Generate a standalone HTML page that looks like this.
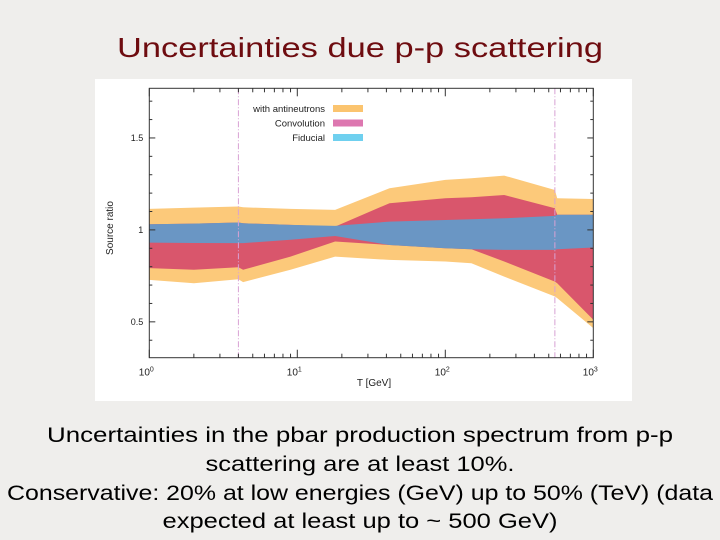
<!DOCTYPE html>
<html><head><meta charset="utf-8"><style>
html,body{margin:0;padding:0;background:#efeeec;}
svg{display:block;font-family:"Liberation Sans",sans-serif;}
</style></head><body>
<svg id="page" width="720" height="540" viewBox="0 0 720 540">
<rect x="0" y="0" width="720" height="540" fill="#efeeec"/>
<text x="360" y="57" text-anchor="middle" font-size="28" fill="#6e0c10" textLength="486" lengthAdjust="spacingAndGlyphs">Uncertainties due p-p scattering</text>
<rect x="95" y="79" width="537" height="322" fill="#ffffff"/>
<g id="chart"></g>
<g font-size="21" fill="#000" text-anchor="middle">
<text x="360" y="442" textLength="626" lengthAdjust="spacingAndGlyphs">Uncertainties in the pbar production spectrum from p-p</text>
<text x="360" y="471" textLength="309" lengthAdjust="spacingAndGlyphs">scattering are at least 10%.</text>
<text x="360" y="500" textLength="706" lengthAdjust="spacingAndGlyphs">Conservative: 20% at low energies (GeV) up to 50% (TeV) (data</text>
<text x="360" y="528" textLength="395" lengthAdjust="spacingAndGlyphs">expected at least up to ~ 500 GeV)</text>
</g>
</svg>
<script>
const energies = [1, 2, 4, 4.3, 9, 18, 42, 100, 150, 250, 550, 570, 1000];
const antineutronUpper = [1.114,1.121,1.127,1.123,1.114,1.109,1.226,1.272,1.281,1.295,1.217,1.172,1.168];
const antineutronLower = [0.728,0.71,0.732,0.716,0.783,0.855,0.837,0.828,0.819,0.746,0.638,0.629,0.466];
const convolutionUpper = [1.031,1.034,1.04,1.036,1.027,1.018,1.145,1.172,1.178,1.19,1.118,1.082,1.082];
const convolutionLower = [0.792,0.783,0.797,0.783,0.855,0.937,0.918,0.9,0.895,0.828,0.719,0.71,0.511];
const fiducialUpper = [1.031,1.034,1.04,1.036,1.027,1.022,1.045,1.054,1.058,1.063,1.076,1.082,1.082];
const fiducialLower = [0.931,0.929,0.928,0.928,0.946,0.967,0.918,0.9,0.895,0.891,0.891,0.895,0.904];
const yTickLabels = [0.5, 1, 1.5];
const xDecades = [0, 1, 2, 3];
const markerEnergies = [4, 550];

const NS = "http://www.w3.org/2000/svg";
const L = 149.3, R = 593.3, T = 88.3, B = 357.7;
const yMin = 0.305, yMax = 1.77;
function xs(e){ return L + (Math.log10(e) - 0) / 3 * (R - L); }
function ys(v){ return B - (v - yMin) / (yMax - yMin) * (B - T); }
const g = document.getElementById('chart');
function mk(tag, attrs, parent){ const el = document.createElementNS(NS, tag); for (const k in attrs) el.setAttribute(k, attrs[k]); (parent||g).appendChild(el); return el; }

function band(upper, lower, color, name){
  let d = '';
  energies.forEach((e,i)=>{ d += (i?'L':'M') + xs(e).toFixed(1) + ',' + ys(upper[i]).toFixed(1); });
  for (let i = energies.length-1; i >= 0; i--) d += 'L' + xs(energies[i]).toFixed(1) + ',' + ys(lower[i]).toFixed(1);
  const p = mk('path', {d: d + 'Z', fill: color});
  
  
}
band(antineutronUpper, antineutronLower, '#fcc97a', 'band-with-antineutrons');
band(convolutionUpper, convolutionLower, '#d9566c', 'band-convolution');
band(fiducialUpper, fiducialLower, '#6a96c4', 'band-fiducial');

markerEnergies.forEach(e=>{
  const l = mk('line', {x1: xs(e), x2: xs(e), y1: T, y2: B, stroke: '#d8a2d4', 'stroke-width': 1, 'stroke-dasharray': '6,2,1,2'});
  
  
});

const fr = mk('rect', {x: L, y: T, width: R-L, height: B-T, fill: 'none', stroke: '#333', 'stroke-width': 1});



for (let v = 0.4; v <= 1.75; v += 0.1) {
  const vv = Math.round(v*10)/10;
  const major = Math.abs(vv*2 - Math.round(vv*2)) < 1e-6;
  const len = major ? 6 : 3;
  const t1 = mk('line', {x1: L, x2: L+len, y1: ys(vv), y2: ys(vv), stroke: '#333'});
  
  
  const t2 = mk('line', {x1: R, x2: R-len, y1: ys(vv), y2: ys(vv), stroke: '#333'});
  
  
}
yTickLabels.forEach(v=>{
  const t = mk('text', {x: L-6, y: ys(v)+3, 'text-anchor': 'end', 'font-size': 9, fill: '#222'});
  t.textContent = String(v);
  
  
});
xDecades.forEach(dc=>{
  if (dc < 3) for (let m = 2; m <= 9; m++) {
    const x = xs(m*Math.pow(10,dc));
    const a = mk('line', {x1: x, x2: x, y1: B, y2: B-4, stroke: '#333'});
    
    
    const b = mk('line', {x1: x, x2: x, y1: T, y2: T+4, stroke: '#333'});
    
    
  }
  const x = xs(Math.pow(10,dc));
  const a = mk('line', {x1: x, x2: x, y1: B, y2: B-8, stroke: '#333'});
  
  
  const b = mk('line', {x1: x, x2: x, y1: T, y2: T+8, stroke: '#333'});
  
  
  const t = mk('text', {x: x-3, y: B+18, 'text-anchor': 'middle', 'font-size': 10, fill: '#222'});
  
  
  t.textContent = '10';
  const s = mk('tspan', {dy: -4, 'font-size': 7}, t);
  s.textContent = String(dc);
});
const xt = mk('text', {x: 374, y: 386, 'text-anchor': 'middle', 'font-size': 10, fill: '#222'});
xt.textContent = 'T [GeV]';


const yt = mk('text', {x: 113, y: 228, 'text-anchor': 'middle', 'font-size': 10, fill: '#222', transform: 'rotate(-90 113 228)'});
yt.textContent = 'Source ratio';



const legendLabels = ['with antineutrons', 'Convolution', 'Fiducial'];
const legendColors = ['#fbc46f', '#dd77b0', '#6fd0ef'];
legendLabels.forEach((lab,i)=>{
  const y = 109 + i*14.5;
  const t = mk('text', {x: 325, y: y+3, 'text-anchor': 'end', 'font-size': 9.5, fill: '#222'});
  t.textContent = lab;
  
  
  const r = mk('rect', {x: 333, y: y-4, width: 30, height: 7, fill: legendColors[i]});
  
  
});
</script>
</body></html>
